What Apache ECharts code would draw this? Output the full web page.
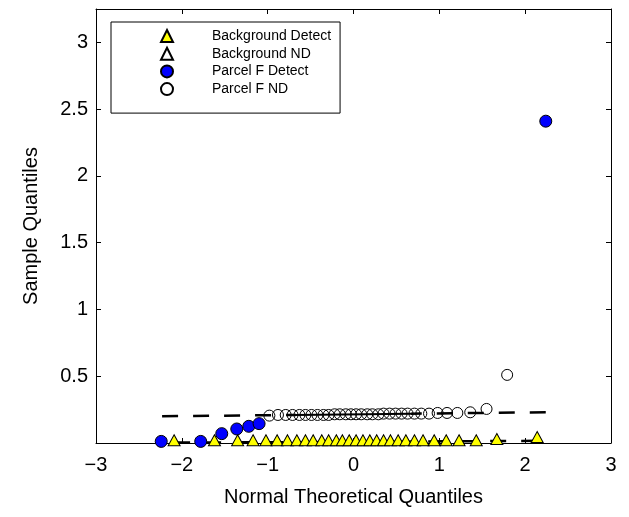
<!DOCTYPE html>
<html><head><meta charset="utf-8">
<script src="https://cdn.jsdelivr.net/npm/echarts@6/dist/echarts.min.js"></script>
<style>html,body{margin:0;padding:0;background:#fff}#c{width:629px;height:517px}</style>
</head><body><div id="c"></div>
<script>
const seriesNames = ['Background Detect', 'Background ND', 'Parcel F Detect', 'Parcel F ND'];
const xTitle = 'Normal Theoretical Quantiles';
const yTitle = 'Sample Quantiles';

const bgDetectX = [-2.09,-1.62,-1.35,-1.17,-1.02,-0.89,-0.77,-0.66,-0.56,-0.47,-0.37,-0.29,-0.20,-0.13,-0.05,0.03,0.11,0.19,0.27,0.35,0.43,0.52,0.61,0.71,0.81,0.94,1.08,1.23,1.43,1.67,2.14];
const bgDetectY = [0.02,0.02,0.02,0.02,0.02,0.02,0.02,0.02,0.02,0.02,0.02,0.02,0.02,0.02,0.02,0.02,0.02,0.02,0.02,0.02,0.02,0.02,0.02,0.02,0.02,0.02,0.02,0.02,0.02,0.03,0.045];
const bgNDX = [];
const bgNDY = [];
const pfDetectX = [-2.24,-1.78,-1.535,-1.36,-1.22,-1.10,2.24];
const pfDetectY = [0.012,0.012,0.07,0.105,0.125,0.145,2.41];
const pfNDX = [-0.98,-0.88,-0.79,-0.71,-0.63,-0.56,-0.49,-0.42,-0.35,-0.29,-0.22,-0.16,-0.09,-0.03,0.03,0.09,0.16,0.22,0.29,0.35,0.42,0.49,0.56,0.63,0.71,0.79,0.88,0.98,1.09,1.21,1.36,1.55,1.79];
const pfNDY = [0.205,0.21,0.21,0.21,0.21,0.21,0.21,0.21,0.21,0.21,0.215,0.215,0.215,0.215,0.215,0.215,0.215,0.215,0.215,0.22,0.22,0.22,0.22,0.22,0.22,0.22,0.22,0.225,0.225,0.225,0.23,0.255,0.51];
// reference lines: [left extreme, 1st quartile, 3rd quartile, right extreme]
const pfRefX = [-2.23,-0.67,0.67,2.24];
const pfRefY = [0.2,0.2105,0.2195,0.23];
const bgRefX = [-2.09,-0.66,0.66,2.14];
const bgRefY = [0.003,0.007,0.011,0.016];
const xMin = -3, xMax = 3, xStep = 1;
const yMin = 0, yMax = 3.25, yStep = 0.5;

const FONT = "'Liberation Sans', Arial, Helvetica, sans-serif";
const zip = (xs, ys) => xs.map((x, i) => [x, ys[i]]);

const chart = echarts.init(document.getElementById('c'), null, {renderer: 'canvas'});
const axisCommon = {
  axisLine: {show: true, onZero: false, lineStyle: {color: '#000', width: 1}},
  axisTick: {show: true, inside: true, length: 5, lineStyle: {color: '#000', width: 1}},
  splitLine: {show: false}
};
const refLine = (xs, ys, a, b, dashed, rev) => {
  let d = zip(xs.slice(a, b + 1), ys.slice(a, b + 1));
  if (rev) d = d.reverse();
  return {
    type: 'line', data: d, symbol: 'none', silent: true, z: 1,
    lineStyle: {color: '#000', width: dashed ? 2.5 : 2, type: dashed ? [16, 15] : 'solid'}
  };
};
chart.setOption({
  animation: false,
  backgroundColor: '#fff',
  textStyle: {fontFamily: FONT},
  grid: {left: 96, right: 18, top: 9, bottom: 74, containLabel: false},
  xAxis: [
    Object.assign({type: 'value', position: 'bottom', min: xMin, max: xMax, interval: xStep,
      name: xTitle, nameLocation: 'middle', nameGap: 44,
      nameTextStyle: {fontSize: 20, color: '#000', fontFamily: FONT},
      axisLabel: {fontSize: 20, color: '#000', margin: 12, fontFamily: FONT,
        formatter: v => (v < 0 ? '\u2212' + Math.abs(v) : String(v))}}, axisCommon),
    Object.assign({type: 'value', position: 'top', min: xMin, max: xMax, interval: xStep,
      axisLabel: {show: false}}, axisCommon)
  ],
  yAxis: [
    Object.assign({type: 'value', position: 'left', min: yMin, max: yMax, interval: yStep,
      name: yTitle, nameLocation: 'middle', nameGap: 55,
      nameTextStyle: {fontSize: 20, color: '#000', fontFamily: FONT},
      axisLabel: {fontSize: 20, color: '#000', margin: 8, fontFamily: FONT,
        formatter: v => (v <= 0 || Math.abs(v / 0.5 - Math.round(v / 0.5)) > 1e-6 ? '' : String(v))}}, axisCommon),
    Object.assign({type: 'value', position: 'right', min: yMin, max: yMax, interval: yStep,
      axisLabel: {show: false}}, axisCommon)
  ],
  legend: {
    data: seriesNames,
    orient: 'vertical', left: 111, top: 22,
    padding: [6, 9, 16, 49],
    itemWidth: 12, itemHeight: 12, itemGap: 1.7,
    backgroundColor: '#fff', borderColor: '#000', borderWidth: 1, borderRadius: 0,
    textStyle: {fontSize: 14, color: '#000', fontFamily: FONT, lineHeight: 16, padding: [0, 0, 0, 34]},
    selectedMode: false
  },
  series: [
    refLine(bgRefX, bgRefY, 0, 1, true, false),
    refLine(bgRefX, bgRefY, 1, 2, false, false),
    refLine(bgRefX, bgRefY, 2, 3, true, true),
    refLine(pfRefX, pfRefY, 0, 1, true, false),
    refLine(pfRefX, pfRefY, 1, 2, false, false),
    refLine(pfRefX, pfRefY, 2, 3, true, true),
    {name: seriesNames[0], type: 'scatter', data: zip(bgDetectX, bgDetectY), symbol: 'triangle', symbolSize: [12, 11], z: 3,
      itemStyle: {color: '#ffff00', borderColor: '#000', borderWidth: 1, opacity: 1}},
    {name: seriesNames[1], type: 'scatter', data: zip(bgNDX, bgNDY), symbol: 'triangle', symbolSize: [12, 11], z: 3,
      itemStyle: {color: 'rgba(255,255,255,0)', borderColor: '#000', borderWidth: 1, opacity: 1}},
    {name: seriesNames[2], type: 'scatter', data: zip(pfDetectX, pfDetectY), symbol: 'circle', symbolSize: 12, z: 4,
      itemStyle: {color: '#0000ff', borderColor: '#000', borderWidth: 1, opacity: 1}},
    {name: seriesNames[3], type: 'scatter', data: zip(pfNDX, pfNDY), symbol: 'circle', symbolSize: 11, z: 4,
      itemStyle: {color: 'rgba(255,255,255,0)', borderColor: '#000', borderWidth: 1, opacity: 1}}
  ]
});
</script>
</body></html>
